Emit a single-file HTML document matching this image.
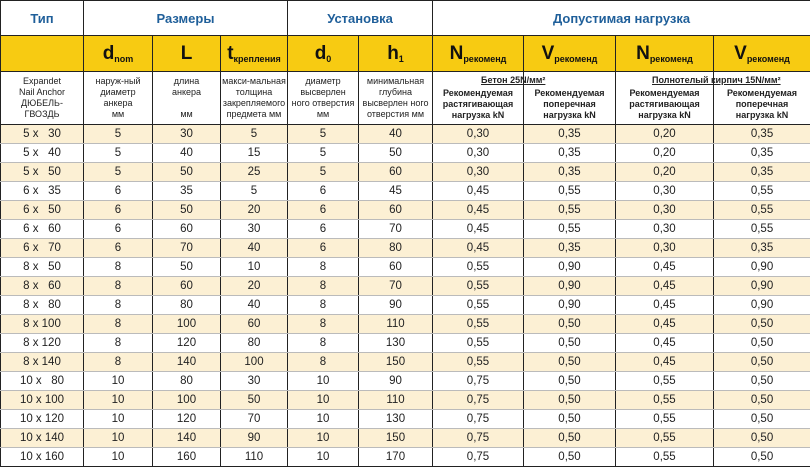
<!DOCTYPE html>
<html><head><meta charset="utf-8"><style>
html,body{margin:0;padding:0;background:#fff;}
table{border-collapse:collapse;table-layout:fixed;width:810px;font-family:"Liberation Sans","DejaVu Sans",sans-serif;color:#222;}
td{padding:0;text-align:center;vertical-align:middle;border-left:1px solid #222;border-right:1px solid #222;}
tr.h td{height:34px;border-top:1px solid #222;border-bottom:1px solid #222;color:#1f5f9a;font-weight:bold;font-size:13px;}
tr.y td{height:35px;background:#f7cb12;border-bottom:1px solid #222;font-weight:bold;font-size:19px;color:#111;}
tr.y sub{font-size:9px;vertical-align:-3px;line-height:0;}
tr.d td{height:52px;font-size:9px;line-height:11px;border-bottom:1px solid #222;}
.c{height:52px;box-sizing:border-box;display:flex;flex-direction:column;justify-content:center;position:relative;overflow:visible;}
.c.b{font-weight:bold;justify-content:flex-end;padding-bottom:3px;}
.t{position:absolute;top:3px;white-space:nowrap;text-decoration:underline;font-weight:bold;z-index:2;}
tr.r td{height:18px;font-size:11.5px;border-bottom:1px solid #bbb;}
tr.r:nth-child(odd) td{background:#fcf0d4;}
tr.r:last-child td{border-bottom:1px solid #222;}
</style></head><body>
<table>
<colgroup><col style="width:83px"><col style="width:69px"><col style="width:68px"><col style="width:67px"><col style="width:71px"><col style="width:74px"><col style="width:91px"><col style="width:92px"><col style="width:98px"><col style="width:97px"></colgroup>
<tr class="h"><td>Тип</td><td colspan="3">Размеры</td><td colspan="2">Установка</td><td colspan="4">Допустимая нагрузка</td></tr>
<tr class="y"><td></td><td>d<sub>nom</sub></td><td>L</td><td>t<sub>крепления</sub></td><td>d<sub>0</sub></td><td>h<sub>1</sub></td><td>N<sub>рекоменд</sub></td><td>V<sub>рекоменд</sub></td><td>N<sub>рекоменд</sub></td><td>V<sub>рекоменд</sub></td></tr>
<tr class="d"><td><div class="c">Expandet<br>Nail Anchor<br>ДЮБЕЛЬ-<br>ГВОЗДЬ</div></td><td><div class="c">наруж-ный<br>диаметр<br>анкера<br>мм</div></td><td><div class="c">длина<br>анкера<br><br>мм</div></td><td><div class="c">макси-мальная<br>толщина<br>закрепляемого<br>предмета мм</div></td><td><div class="c">диаметр<br>высверлен<br>ного отверстия<br>мм</div></td><td><div class="c">минимальная<br>глубина<br>высверлен ного<br>отверстия мм</div></td>
<td><div class="c b"><span class="t" style="left:48px">Бетон 25N/мм²</span>Рекомендуемая<br>растягивающая<br>нагрузка kN</div></td><td><div class="c b">Рекомендуемая<br>поперечная<br>нагрузка kN</div></td>
<td><div class="c b"><span class="t" style="left:36px">Полнотелый кирпич 15N/мм²</span>Рекомендуемая<br>растягивающая<br>нагрузка kN</div></td><td><div class="c b">Рекомендуемая<br>поперечная<br>нагрузка kN</div></td></tr>
<tbody>
<tr class="r"><td>5 x &nbsp;&nbsp;30</td><td>5</td><td>30</td><td>5</td><td>5</td><td>40</td><td>0,30</td><td>0,35</td><td>0,20</td><td>0,35</td></tr>
<tr class="r"><td>5 x &nbsp;&nbsp;40</td><td>5</td><td>40</td><td>15</td><td>5</td><td>50</td><td>0,30</td><td>0,35</td><td>0,20</td><td>0,35</td></tr>
<tr class="r"><td>5 x &nbsp;&nbsp;50</td><td>5</td><td>50</td><td>25</td><td>5</td><td>60</td><td>0,30</td><td>0,35</td><td>0,20</td><td>0,35</td></tr>
<tr class="r"><td>6 x &nbsp;&nbsp;35</td><td>6</td><td>35</td><td>5</td><td>6</td><td>45</td><td>0,45</td><td>0,55</td><td>0,30</td><td>0,55</td></tr>
<tr class="r"><td>6 x &nbsp;&nbsp;50</td><td>6</td><td>50</td><td>20</td><td>6</td><td>60</td><td>0,45</td><td>0,55</td><td>0,30</td><td>0,55</td></tr>
<tr class="r"><td>6 x &nbsp;&nbsp;60</td><td>6</td><td>60</td><td>30</td><td>6</td><td>70</td><td>0,45</td><td>0,55</td><td>0,30</td><td>0,55</td></tr>
<tr class="r"><td>6 x &nbsp;&nbsp;70</td><td>6</td><td>70</td><td>40</td><td>6</td><td>80</td><td>0,45</td><td>0,35</td><td>0,30</td><td>0,35</td></tr>
<tr class="r"><td>8 x &nbsp;&nbsp;50</td><td>8</td><td>50</td><td>10</td><td>8</td><td>60</td><td>0,55</td><td>0,90</td><td>0,45</td><td>0,90</td></tr>
<tr class="r"><td>8 x &nbsp;&nbsp;60</td><td>8</td><td>60</td><td>20</td><td>8</td><td>70</td><td>0,55</td><td>0,90</td><td>0,45</td><td>0,90</td></tr>
<tr class="r"><td>8 x &nbsp;&nbsp;80</td><td>8</td><td>80</td><td>40</td><td>8</td><td>90</td><td>0,55</td><td>0,90</td><td>0,45</td><td>0,90</td></tr>
<tr class="r"><td>8 x 100</td><td>8</td><td>100</td><td>60</td><td>8</td><td>110</td><td>0,55</td><td>0,50</td><td>0,45</td><td>0,50</td></tr>
<tr class="r"><td>8 x 120</td><td>8</td><td>120</td><td>80</td><td>8</td><td>130</td><td>0,55</td><td>0,50</td><td>0,45</td><td>0,50</td></tr>
<tr class="r"><td>8 x 140</td><td>8</td><td>140</td><td>100</td><td>8</td><td>150</td><td>0,55</td><td>0,50</td><td>0,45</td><td>0,50</td></tr>
<tr class="r"><td>10 x &nbsp;&nbsp;80</td><td>10</td><td>80</td><td>30</td><td>10</td><td>90</td><td>0,75</td><td>0,50</td><td>0,55</td><td>0,50</td></tr>
<tr class="r"><td>10 x 100</td><td>10</td><td>100</td><td>50</td><td>10</td><td>110</td><td>0,75</td><td>0,50</td><td>0,55</td><td>0,50</td></tr>
<tr class="r"><td>10 x 120</td><td>10</td><td>120</td><td>70</td><td>10</td><td>130</td><td>0,75</td><td>0,50</td><td>0,55</td><td>0,50</td></tr>
<tr class="r"><td>10 x 140</td><td>10</td><td>140</td><td>90</td><td>10</td><td>150</td><td>0,75</td><td>0,50</td><td>0,55</td><td>0,50</td></tr>
<tr class="r"><td>10 x 160</td><td>10</td><td>160</td><td>110</td><td>10</td><td>170</td><td>0,75</td><td>0,50</td><td>0,55</td><td>0,50</td></tr>
</tbody>
</table>
</body></html>
